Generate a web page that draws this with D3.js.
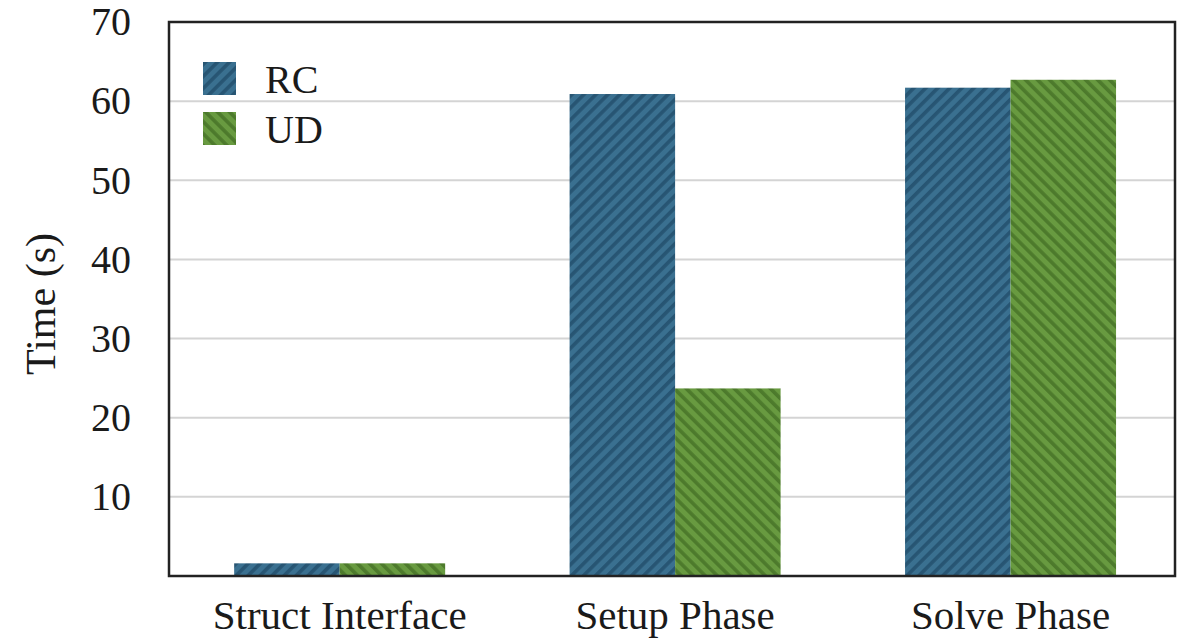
<!DOCTYPE html>
<html>
<head>
<meta charset="utf-8">
<script src="https://cdn.jsdelivr.net/npm/d3@7/dist/d3.min.js"></script>
<style>
  html, body { margin: 0; padding: 0; background: #fff; }
  svg text { font-family: "Liberation Serif", "Times New Roman", serif; fill: #1a1a1a; }
</style>
</head>
<body>
<svg id="chart" width="1191" height="640"></svg>
<script>
// Timing breakdown per phase (seconds)
const categories = ["Struct Interface", "Setup Phase", "Solve Phase"];
const seriesNames = ["RC", "UD"];
const rcValues = [1.6, 60.9, 61.7];
const udValues = [1.6, 23.7, 62.7];
const yTicks = [10, 20, 30, 40, 50, 60, 70];

const seriesStyle = {
  RC: { base: "#3a7090", stripe: "#275573", angle: 45 },
  UD: { base: "#689a40", stripe: "#4d7a2c", angle: -45 }
};

const svg = d3.select("#chart");
const margin = { top: 22, right: 16, bottom: 64, left: 169 };
const W = 1191, H = 640;
const plotW = W - margin.left - margin.right;
const plotH = H - margin.top - margin.bottom;

// Hatched fills for the two series
const defs = svg.append("defs");
seriesNames.forEach(name => {
  const s = seriesStyle[name];
  const p = defs.append("pattern")
    .attr("id", "hatch-" + name)
    .attr("patternUnits", "userSpaceOnUse")
    .attr("width", 8.5).attr("height", 8.5)
    .attr("patternTransform", `rotate(${s.angle})`);
  p.append("rect").attr("width", 8.5).attr("height", 8.5).attr("fill", s.base);
  p.append("rect").attr("width", 3.6).attr("height", 8.5).attr("fill", s.stripe);
});

const g = svg.append("g").attr("transform", `translate(${margin.left},${margin.top})`);

const x0 = d3.scaleBand().domain(categories).range([0, plotW])
  .paddingInner(0.371).paddingOuter(0.185).align(0.525);
const x1 = d3.scaleBand().domain(seriesNames).range([0, x0.bandwidth()]).padding(0);
const y = d3.scaleLinear().domain([0, 70]).range([plotH, 0]);

// Horizontal gridlines
g.append("g").selectAll("line")
  .data(yTicks.filter(t => t < 70))
  .join("line")
  .attr("x1", 0).attr("x2", plotW)
  .attr("y1", d => y(d)).attr("y2", d => y(d))
  .attr("stroke", "#d4d4d4").attr("stroke-width", 2);

// Bars
const rows = categories.map((c, i) => ({ cat: c, RC: rcValues[i], UD: udValues[i] }));
g.append("g").selectAll("g")
  .data(rows)
  .join("g")
  .attr("transform", d => `translate(${x0(d.cat)},0)`)
  .selectAll("rect")
  .data(d => seriesNames.map(k => ({ key: k, value: d[k] })))
  .join("rect")
  .attr("x", d => x1(d.key))
  .attr("width", x1.bandwidth())
  .attr("y", d => y(d.value))
  .attr("height", d => y(0) - y(d.value))
  .attr("fill", d => `url(#hatch-${d.key})`);

// Y axis tick labels
const yAxis = d3.axisLeft(y).tickValues(yTicks).tickSize(0).tickPadding(38);
const ya = g.append("g").call(yAxis);
ya.select(".domain").remove();
ya.selectAll("text").attr("font-size", 40).style("font-family", "Liberation Serif, serif").attr("fill", "#1a1a1a");

// X axis category labels
const xAxis = d3.axisBottom(x0).tickSize(0).tickPadding(24);
const xa = g.append("g").attr("transform", `translate(0,${plotH})`).call(xAxis);
xa.select(".domain").remove();
xa.selectAll("text").attr("font-size", 41).style("font-family", "Liberation Serif, serif").attr("fill", "#1a1a1a")
  .attr("dy", "0.71em");

// Plot frame
g.append("rect")
  .attr("x", 0).attr("y", 0).attr("width", plotW).attr("height", plotH)
  .attr("fill", "none").attr("stroke", "#222").attr("stroke-width", 2.5);

// Y axis title
svg.append("text")
  .attr("transform", "translate(55,304) rotate(-90)")
  .attr("text-anchor", "middle")
  .attr("font-size", 42)
  .text("Time (s)");

// Legend
const legend = g.append("g").attr("transform", "translate(34,40)");
seriesNames.forEach((name, i) => {
  const row = legend.append("g").attr("transform", `translate(0,${i * 50})`);
  row.append("rect").attr("width", 33).attr("height", 33).attr("fill", `url(#hatch-${name})`);
  row.append("text").attr("x", 62).attr("y", 31).attr("font-size", 40).text(name);
});
</script>
</body>
</html>
